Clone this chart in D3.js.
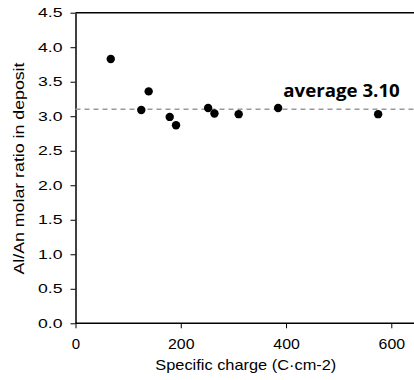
<!DOCTYPE html>
<html><head><meta charset="utf-8">
<script src="https://cdn.jsdelivr.net/npm/d3@7/dist/d3.min.js"></script>
<style>body{margin:0;background:#fff;} svg{display:block;}</style>
</head><body>
<svg id="c" width="414" height="380"></svg>
<script>
const charge = [67, 125, 139, 179, 191, 252, 264, 310, 385, 575];
const ratio = [3.83, 3.09, 3.36, 2.99, 2.87, 3.12, 3.04, 3.03, 3.12, 3.03];
const average = 3.10;
const xTicks = [0, 200, 400, 600];
const yTicks = [0, 0.5, 1.0, 1.5, 2.0, 2.5, 3.0, 3.5, 4.0, 4.5];

const svg = d3.select("#c");
const L = 75.5, T = 12.7, B = 323.3;
const x = d3.scaleLinear().domain([0, 600]).range([L, 391.3]);
const y = d3.scaleLinear().domain([0, 4.5]).range([B, T]);
const font = "'Liberation Sans', Arial, sans-serif";

const gx = svg.append("g").attr("transform", `translate(0,${B})`)
  .call(d3.axisBottom(x).tickValues(xTicks).tickSize(5).tickSizeOuter(0).tickPadding(10).tickFormat(d3.format("d")));
gx.select(".domain").remove();
gx.selectAll(".tick text").attr("font-family", font).attr("font-size", 15).attr("fill", "#000")
  .each(function(d) { const s = String(d); if (s.length > 1) d3.select(this).attr("textLength", 26.5).attr("lengthAdjust", "spacingAndGlyphs"); });

svg.append("line").attr("x1", L).attr("x2", 414).attr("y1", B).attr("y2", B).attr("stroke", "#000").attr("stroke-width", 1.5);
svg.append("line").attr("x1", L).attr("x2", 414).attr("y1", T).attr("y2", T).attr("stroke", "#000").attr("stroke-width", 1.5);

const gy = svg.append("g").attr("transform", `translate(${L},0)`)
  .call(d3.axisLeft(y).tickValues(yTicks).tickSize(5).tickSizeOuter(0).tickPadding(8).tickFormat(d3.format(".1f")));
gy.select(".domain").attr("stroke-width", 1.5);
gy.selectAll(".tick text").attr("font-family", font).attr("font-size", 13).attr("fill", "#000")
  .attr("textLength", 24.5).attr("lengthAdjust", "spacingAndGlyphs");

svg.selectAll(".tick line").attr("stroke", "#000");

svg.append("line").attr("x1", L).attr("x2", 414).attr("y1", y(average)).attr("y2", y(average))
  .attr("stroke", "#999").attr("stroke-width", 1.5).attr("stroke-dasharray", "5,4");

svg.selectAll("circle.pt").data(charge).join("circle").attr("class", "pt")
  .attr("cx", (d) => x(d)).attr("cy", (d, i) => y(ratio[i])).attr("r", 4.2).attr("fill", "#000");

svg.append("text").attr("x", 283.3).attr("y", 96.5).attr("font-family", "'Open Sans', sans-serif")
  .attr("font-weight", "bold").attr("font-size", 18).attr("fill", "#000")
  .attr("textLength", 116.5).attr("lengthAdjust", "spacingAndGlyphs")
  .text("average " + average.toFixed(2));

svg.append("text").attr("x", 245.8).attr("y", 370).attr("text-anchor", "middle")
  .attr("font-family", font).attr("font-size", 15).attr("fill", "#000")
  .attr("textLength", 181).attr("lengthAdjust", "spacingAndGlyphs")
  .text("Specific charge (C·cm-2)");

svg.append("text").attr("transform", "translate(23.5,168.5) rotate(-90)").attr("text-anchor", "middle")
  .attr("font-family", font).attr("font-size", 15).attr("fill", "#000")
  .attr("textLength", 212).attr("lengthAdjust", "spacingAndGlyphs")
  .text("Al/An molar ratio in deposit");
</script>
</body></html>
